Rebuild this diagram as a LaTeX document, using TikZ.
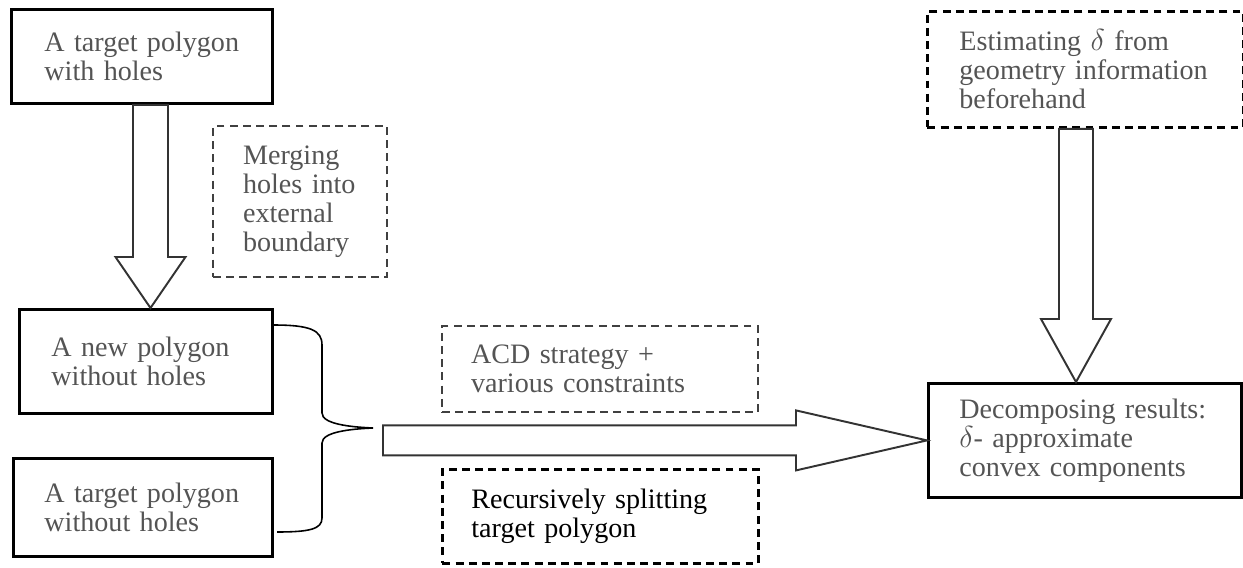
\documentclass[tikz,border=0pt]{standalone}
\usepackage{fontspec}
\setmainfont{Liberation Serif}
\usetikzlibrary{calc}

\definecolor{txtgray}{gray}{0.33}

\tikzset{
  boxfont/.style={font=\fontsize{16}{16.5}\selectfont},
  solidbox/.style={draw, line width=1.6pt, anchor=north west, align=left,
    inner ysep=0pt, text=txtgray, boxfont},
  dashbox/.style={draw=black!75, line width=1.2pt, dash pattern=on 4.5pt off 3pt,
    anchor=north west, align=left, inner ysep=0pt, text=txtgray, boxfont},
  hollow/.style={draw=black!80, line width=1.1pt, fill=white, line join=miter},
}

% hollow arrow going down: #1 from, #2 to, #3 x coordinate, #4 shaft half, #5 head half, #6 head length
\newcommand{\hollowdown}[6]{%
  \draw[hollow] ($(#1.south -| #3)+(-#4,0)$) -- ($(#2.north -| #3)+(-#4,#6)$)
    -- ($(#2.north -| #3)+(-#5,#6)$) -- (#2.north -| #3)
    -- ($(#2.north -| #3)+(#5,#6)$) -- ($(#2.north -| #3)+(#4,#6)$)
    -- ($(#1.south -| #3)+(#4,0)$) -- cycle;}

\begin{document}
\begin{tikzpicture}
    \useasboundingbox (0,0) rectangle (24.86,11.34);

    % Left column
    \node[solidbox, minimum width=5.22cm, minimum height=1.88cm, inner xsep=0.66cm, text width=3.9cm]
        (tgtholes) at (0.2,11.18) {A target polygon\\with holes};
    \node[solidbox, minimum width=5.06cm, minimum height=2.08cm, inner xsep=0.64cm, text width=3.78cm]
        (newpoly) at (0.36,5.18) {A new polygon\\without holes};
    \node[solidbox, minimum width=5.18cm, minimum height=1.96cm, inner xsep=0.62cm, text width=3.94cm]
        (tgtnoholes) at (0.24,2.2) {A target polygon\\without holes};
    \node[dashbox, minimum width=3.48cm, minimum height=3.02cm, inner xsep=0.6cm, text width=2.28cm]
        (merging) at (4.24,8.84) {Merging\\holes into\\external\\boundary};

    % Middle
    \node[dashbox, minimum width=6.32cm, minimum height=1.72cm, inner xsep=0.58cm, text width=5.16cm]
        (acd) at (8.82,4.84) {ACD strategy +\\various constraints};
    \node[dashbox, draw=black, text=black, line width=1.6pt, minimum width=6.32cm, minimum height=1.88cm,
        inner xsep=0.58cm, text width=5.16cm]
        (recursive) at (8.82,1.98) {Recursively splitting\\target polygon};

    % Right column
    \node[dashbox, draw=black, line width=1.6pt, minimum width=6.32cm, minimum height=2.32cm,
        inner xsep=0.64cm, text width=5.04cm]
        (estimate) at (18.52,11.14) {Estimating $\delta$ from\\geometry information\\beforehand};
    \node[solidbox, minimum width=6.26cm, minimum height=2.28cm, inner xsep=0.62cm, text width=5.02cm]
        (decomp) at (18.54,3.7) {Decomposing results:\\$\delta$- approximate\\convex components};

    % Arrows
    \coordinate (ax1) at (3.01,0);
    \coordinate (ax2) at (21.52,0);
    \hollowdown{tgtholes}{newpoly}{ax1}{0.35}{0.7}{1.02}
    \hollowdown{estimate}{decomp}{ax2}{0.34}{0.7}{1.26}

    % Brace
    \coordinate (bracetip) at (7.46,2.78);
    \draw[line width=0.9pt] (5.46,4.84) .. controls (6.2,4.84) and (6.44,4.74) .. (6.44,4.44)
        -- (6.44,3.08) .. controls (6.44,2.86) and (7.0,2.8) .. (bracetip)
        .. controls (7.0,2.76) and (6.44,2.7) .. (6.44,2.48)
        -- (6.44,0.98) .. controls (6.44,0.76) and (6.2,0.7) .. (5.54,0.7);

    \coordinate (tail) at ($(bracetip)+(0.2,0)$);
    \draw[hollow] ($(tail |- decomp.west)+(0,0.3)$) -- ($(decomp.west)+(-2.62,0.3)$)
        -- ($(decomp.west)+(-2.62,0.6)$) -- (decomp.west)
        -- ($(decomp.west)+(-2.62,-0.6)$) -- ($(decomp.west)+(-2.62,-0.3)$)
        -- ($(tail |- decomp.west)+(0,-0.3)$) -- cycle;
\end{tikzpicture}
\end{document}
